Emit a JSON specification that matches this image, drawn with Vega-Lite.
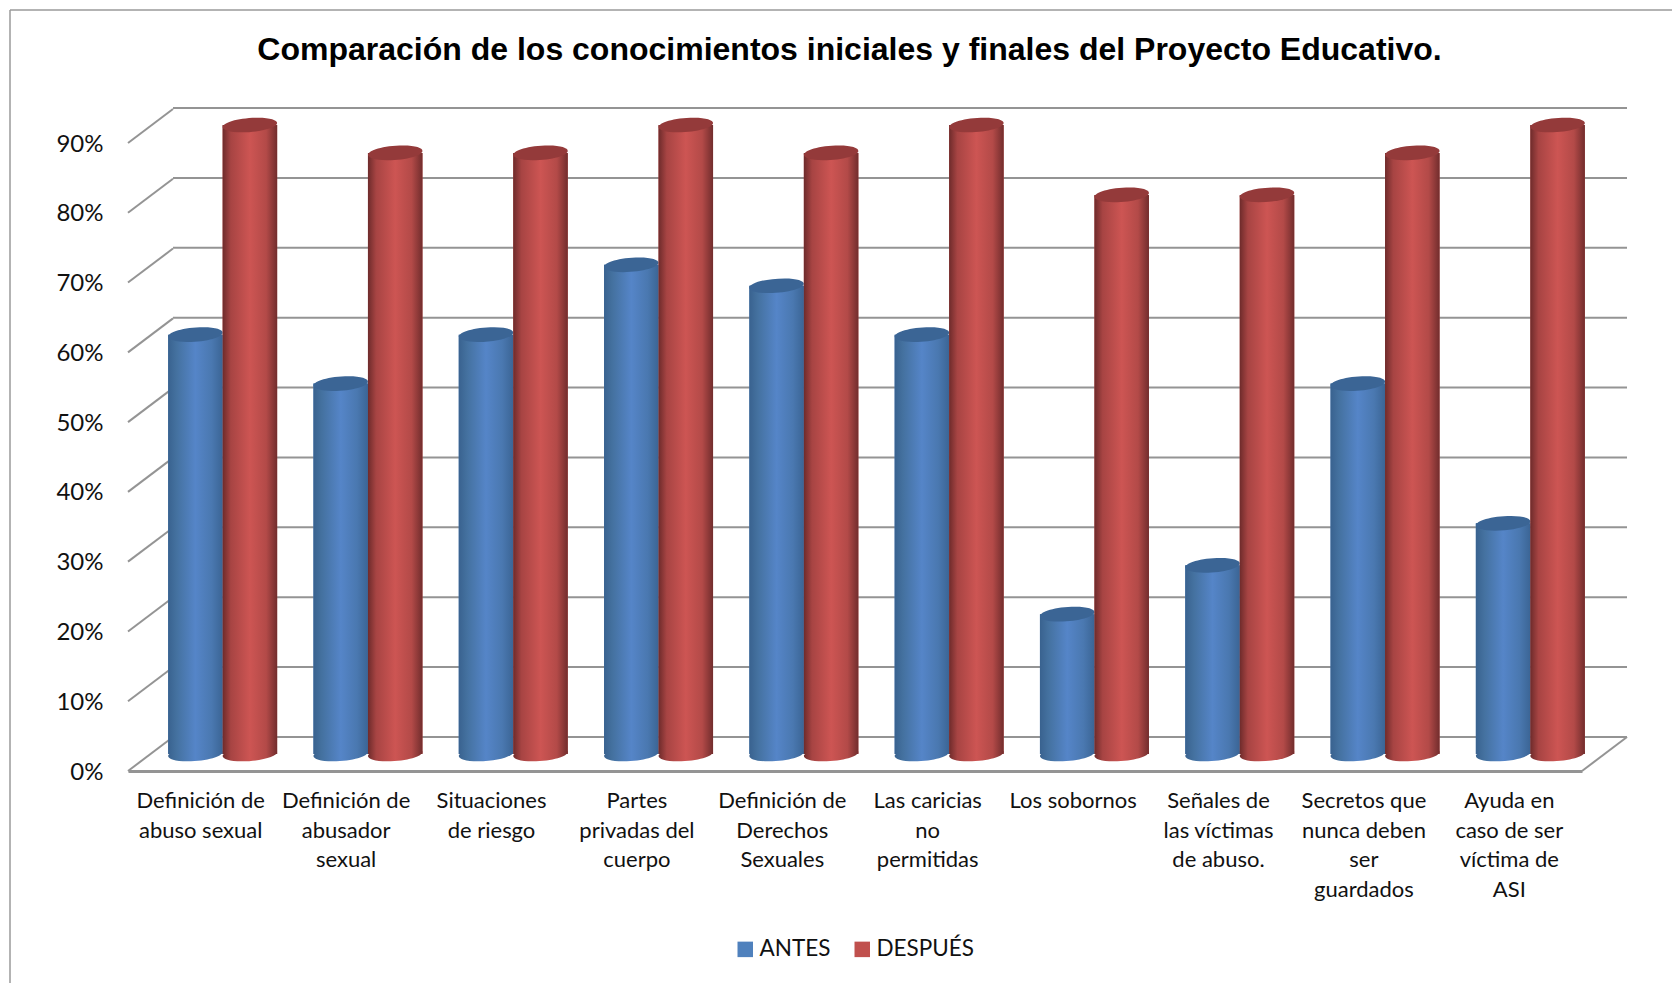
{
"$schema":"https://vega.github.io/schema/vega-lite/v6.json",
"width":1453,"height":628,"autosize":"none",
"padding":{"left":128,"top":143,"right":91,"bottom":212},
"background":"white",
"config":{"view":{"stroke":null}},
"title":{"text":"Comparación de los conocimientos iniciales y finales del Proyecto Educativo.","font":"Liberation Sans","fontWeight":"bold","fontSize":32,"color":"#000000","anchor":"middle","frame":"group","baseline":"alphabetic","offset":-83,"dx":-5},
"datasets":{
"niveles":[{"pct":0,"fondo":0.0487},{"pct":0.1,"fondo":0.1487},{"pct":0.2,"fondo":0.2487},{"pct":0.3,"fondo":0.3487},{"pct":0.4,"fondo":0.4487},{"pct":0.5,"fondo":0.5487},{"pct":0.6,"fondo":0.6487},{"pct":0.7,"fondo":0.7487},{"pct":0.8,"fondo":0.8487},{"pct":0.9,"fondo":0.9487}],
"borde":[{"borde":"marco"}],
"esquina":[{"pct":0,"fondo":0.0487}]
},
"data":{"values":[
{"tema":"Definición de|abuso sexual","periodo":"ANTES","valor":0.60},{"tema":"Definición de|abuso sexual","periodo":"DESPUÉS","valor":0.90},
{"tema":"Definición de|abusador|sexual","periodo":"ANTES","valor":0.53},{"tema":"Definición de|abusador|sexual","periodo":"DESPUÉS","valor":0.86},
{"tema":"Situaciones|de riesgo","periodo":"ANTES","valor":0.60},{"tema":"Situaciones|de riesgo","periodo":"DESPUÉS","valor":0.86},
{"tema":"Partes|privadas del|cuerpo","periodo":"ANTES","valor":0.70},{"tema":"Partes|privadas del|cuerpo","periodo":"DESPUÉS","valor":0.90},
{"tema":"Definición de|Derechos|Sexuales","periodo":"ANTES","valor":0.67},{"tema":"Definición de|Derechos|Sexuales","periodo":"DESPUÉS","valor":0.86},
{"tema":"Las caricias|no|permitidas","periodo":"ANTES","valor":0.60},{"tema":"Las caricias|no|permitidas","periodo":"DESPUÉS","valor":0.90},
{"tema":"Los sobornos","periodo":"ANTES","valor":0.20},{"tema":"Los sobornos","periodo":"DESPUÉS","valor":0.80},
{"tema":"Señales de|las víctimas|de abuso.","periodo":"ANTES","valor":0.27},{"tema":"Señales de|las víctimas|de abuso.","periodo":"DESPUÉS","valor":0.80},
{"tema":"Secretos que|nunca deben|ser|guardados","periodo":"ANTES","valor":0.53},{"tema":"Secretos que|nunca deben|ser|guardados","periodo":"DESPUÉS","valor":0.86},
{"tema":"Ayuda en|caso de ser|víctima de|ASI","periodo":"ANTES","valor":0.33},{"tema":"Ayuda en|caso de ser|víctima de|ASI","periodo":"DESPUÉS","valor":0.90}
]},
"layer":[
{"data":{"name":"borde"},"mark":{"type":"rule","stroke":"#9a9a9a","strokeWidth":1.5},
 "encoding":{"x":{"datum":0,"type":"quantitative","scale":{"domain":[0,1],"range":[-118,1544]},"axis":null},
 "y":{"datum":0,"type":"quantitative","scale":{"domain":[0,1],"range":[-133,840]},"axis":null},"y2":{"datum":1}}},
{"data":{"name":"borde"},"mark":{"type":"rule","stroke":"#9a9a9a","strokeWidth":1.5},
 "encoding":{"x":{"datum":0,"type":"quantitative","scale":{"domain":[0,1],"range":[-118,1544]},"axis":null},"x2":{"datum":1},
 "y":{"datum":0,"type":"quantitative","scale":{"domain":[0,1],"range":[-133,840]},"axis":null}}},
{"data":{"name":"niveles"},"mark":{"type":"rule","stroke":"#949494","strokeWidth":2},
 "encoding":{"x":{"datum":0,"type":"quantitative","scale":{"domain":[0,1],"range":[45,1499]},"axis":null},"x2":{"datum":1},
 "y":{"field":"pct","type":"quantitative","scale":{"domain":[0,0.9],"range":[594,-35]},"axis":null}}},
{"data":{"name":"niveles"},"mark":{"type":"rule","stroke":"#949494","strokeWidth":2},
 "encoding":{"x":{"datum":0,"type":"quantitative","scale":{"domain":[0,1],"range":[0,45]},"axis":null},"x2":{"datum":1},
 "y":{"field":"pct","type":"quantitative","scale":{"domain":[0,0.9],"range":[628,0]},
  "axis":{"values":[0,0.1,0.2,0.3,0.4,0.5,0.6,0.7,0.8,0.9],"format":".0%","title":null,"domain":false,"ticks":false,"grid":false,"labelPadding":25,"labelOffset":1,"labelFont":"Lato","labelFontSize":24,"labelColor":"#111111"}},
 "y2":{"field":"fondo"}}},
{"data":{"name":"esquina"},"mark":{"type":"rule","stroke":"#949494","strokeWidth":2},
 "encoding":{"x":{"datum":0,"type":"quantitative","scale":{"domain":[0,1],"range":[1454,1499]},"axis":null},"x2":{"datum":1},
 "y":{"field":"pct","type":"quantitative","scale":{"domain":[0,0.9],"range":[628,0]},"axis":null},"y2":{"field":"fondo"}}},
{"mark":{"type":"rule","opacity":0},
 "encoding":{"x":{"field":"tema","type":"nominal","sort":null,"scale":{"range":[0,1454],"paddingInner":0,"paddingOuter":0},
  "axis":{"title":null,"labelAngle":0,"ticks":false,"grid":false,"domain":true,"domainColor":"#949494","domainWidth":3,"labelExpr":"split(datum.label,'|')","labelFont":"Lato","labelFontSize":22,"labelColor":"#111111","labelLineHeight":29.7,"labelPadding":19.5,"labelOverlap":false,"labelBound":false,"labelFlush":false,"labelLimit":0}}}},
{"mark":{"type":"bar"},
 "encoding":{"x":{"field":"tema","type":"nominal","sort":null,"scale":{"range":[22,1475],"paddingInner":0,"paddingOuter":0},"axis":null},
 "xOffset":{"field":"periodo","type":"nominal","scale":{"domain":["ANTES","DESPUÉS"],"paddingInner":0,"paddingOuter":0.333}},
 "y":{"field":"valor","type":"quantitative","stack":null,"scale":{"domain":[0,0.9],"range":[611,-18]},"axis":null},
 "color":{"field":"periodo","type":"nominal","scale":{"domain":["ANTES","DESPUÉS"],"range":["#4f81bd","#c0504d"]},
  "legend":{"title":null,"orient":"none","legendX":606,"legendY":795,"direction":"horizontal","columns":2,"symbolType":"square","symbolSize":240,"symbolStrokeWidth":0,"labelFont":"Lato","labelFontSize":22.5,"labelColor":"#111111","columnPadding":20,"labelOffset":3}}}},
{"transform":[{"filter":"datum.periodo==='ANTES'"}],
 "mark":{"type":"point","filled":true,"size":2970,"opacity":1,"shape":"M-1,0.07C-1,-0.08,-0.45,-0.27,0.3,-0.27C0.75,-0.27,1,-0.18,1,-0.07C1,0.08,0.45,0.27,-0.3,0.27C-0.75,0.27,-1,0.18,-1,0.07Z",
  "fill":{"gradient":"linear","x1":0,"y1":0,"x2":1,"y2":0,"stops":[{"offset":0,"color":"#39628f"},{"offset":0.15,"color":"#44719f"},{"offset":0.5,"color":"#5585c8"},{"offset":0.8,"color":"#4a78b0"},{"offset":1,"color":"#3b6595"}]}},
 "encoding":{"x":{"field":"tema","type":"nominal","sort":null,"scale":{"range":[22,1475],"paddingInner":0,"paddingOuter":0},"axis":null},
 "xOffset":{"field":"periodo","type":"nominal"},
 "y":{"datum":0,"type":"quantitative","scale":{"domain":[0,0.9],"range":[611,-18]},"axis":null}}},
{"transform":[{"filter":"datum.periodo==='ANTES'"}],
 "mark":{"type":"bar","fill":{"gradient":"linear","x1":0,"y1":0,"x2":1,"y2":0,"stops":[{"offset":0,"color":"#39628f"},{"offset":0.15,"color":"#44719f"},{"offset":0.5,"color":"#5585c8"},{"offset":0.8,"color":"#4a78b0"},{"offset":1,"color":"#3b6595"}]}},
 "encoding":{"x":{"field":"tema","type":"nominal","sort":null,"scale":{"range":[22,1475],"paddingInner":0,"paddingOuter":0},"axis":null},
 "xOffset":{"field":"periodo","type":"nominal"},
 "y":{"field":"valor","type":"quantitative","stack":null,"scale":{"domain":[0,0.9],"range":[611,-18]},"axis":null}}},
{"transform":[{"filter":"datum.periodo==='ANTES'"}],
 "mark":{"type":"point","filled":true,"size":2970,"opacity":1,"fill":"#3b6595","shape":"M-1,0.07C-1,-0.08,-0.45,-0.27,0.3,-0.27C0.75,-0.27,1,-0.18,1,-0.07C1,0.08,0.45,0.27,-0.3,0.27C-0.75,0.27,-1,0.18,-1,0.07Z"},
 "encoding":{"x":{"field":"tema","type":"nominal","sort":null,"scale":{"range":[22,1475],"paddingInner":0,"paddingOuter":0},"axis":null},
 "xOffset":{"field":"periodo","type":"nominal"},
 "y":{"field":"valor","type":"quantitative","scale":{"domain":[0,0.9],"range":[611,-18]},"axis":null}}},
{"transform":[{"filter":"datum.periodo==='DESPUÉS'"}],
 "mark":{"type":"point","filled":true,"size":2970,"opacity":1,"shape":"M-1,0.07C-1,-0.08,-0.45,-0.27,0.3,-0.27C0.75,-0.27,1,-0.18,1,-0.07C1,0.08,0.45,0.27,-0.3,0.27C-0.75,0.27,-1,0.18,-1,0.07Z",
  "fill":{"gradient":"linear","x1":0,"y1":0,"x2":1,"y2":0,"stops":[{"offset":0,"color":"#6e2b2b"},{"offset":0.15,"color":"#a74443"},{"offset":0.5,"color":"#cd5553"},{"offset":0.8,"color":"#b34a48"},{"offset":1,"color":"#722d2d"}]}},
 "encoding":{"x":{"field":"tema","type":"nominal","sort":null,"scale":{"range":[22,1475],"paddingInner":0,"paddingOuter":0},"axis":null},
 "xOffset":{"field":"periodo","type":"nominal"},
 "y":{"datum":0,"type":"quantitative","scale":{"domain":[0,0.9],"range":[611,-18]},"axis":null}}},
{"transform":[{"filter":"datum.periodo==='DESPUÉS'"}],
 "mark":{"type":"bar","fill":{"gradient":"linear","x1":0,"y1":0,"x2":1,"y2":0,"stops":[{"offset":0,"color":"#6e2b2b"},{"offset":0.15,"color":"#a74443"},{"offset":0.5,"color":"#cd5553"},{"offset":0.8,"color":"#b34a48"},{"offset":1,"color":"#722d2d"}]}},
 "encoding":{"x":{"field":"tema","type":"nominal","sort":null,"scale":{"range":[22,1475],"paddingInner":0,"paddingOuter":0},"axis":null},
 "xOffset":{"field":"periodo","type":"nominal"},
 "y":{"field":"valor","type":"quantitative","stack":null,"scale":{"domain":[0,0.9],"range":[611,-18]},"axis":null}}},
{"transform":[{"filter":"datum.periodo==='DESPUÉS'"}],
 "mark":{"type":"point","filled":true,"size":2970,"opacity":1,"fill":"#943a3a","shape":"M-1,0.07C-1,-0.08,-0.45,-0.27,0.3,-0.27C0.75,-0.27,1,-0.18,1,-0.07C1,0.08,0.45,0.27,-0.3,0.27C-0.75,0.27,-1,0.18,-1,0.07Z"},
 "encoding":{"x":{"field":"tema","type":"nominal","sort":null,"scale":{"range":[22,1475],"paddingInner":0,"paddingOuter":0},"axis":null},
 "xOffset":{"field":"periodo","type":"nominal"},
 "y":{"field":"valor","type":"quantitative","scale":{"domain":[0,0.9],"range":[611,-18]},"axis":null}}}
],
"resolve":{"scale":{"x":"independent","y":"independent"},"axis":{"x":"independent","y":"independent"}}
}
